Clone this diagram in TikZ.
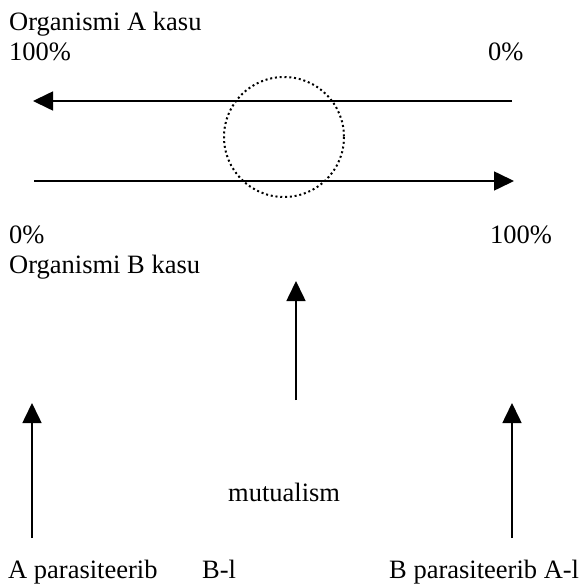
\documentclass[tikz,border=0pt]{standalone}
\usepackage{fontspec}
\setmainfont{Liberation Serif}
\usetikzlibrary{arrows.meta}
\begin{document}
\begin{tikzpicture}[x=1pt,y=-1pt,
  lbl/.style={anchor=base west,inner sep=0pt,font=\fontsize{26.5}{30}\selectfont},
  arr/.style={line width=1.6pt,-{Triangle[length=20pt,width=19pt]}},
  ring/.style={line width=2pt,dash pattern=on 2pt off 2.8pt}]
\useasboundingbox (0,0) rectangle (585,586);
% labels
\node[lbl] (orgA) at (9,31) {Organismi A kasu};
\node[lbl] (a100) at (9,60) {100\%};
\node[lbl] (a0) at (488,60) {0\%};
\node[lbl] (b0) at (9,243) {0\%};
\node[lbl] (b100) at (490,243) {100\%};
\node[lbl] (orgB) at (9,273) {Organismi B kasu};
\node[lbl] (mut) at (228,501) {mutualism};
\node[lbl] (apar) at (8,578) {A parasiteerib};
\node[lbl] (bl) at (202,578) {B-l};
\node[lbl] (bpar) at (389,578) {B parasiteerib A-l};
% arrow ends
\coordinate (t1) at (512,101);
\coordinate (t2) at (33,101);
\coordinate (m1) at (34,181);
\coordinate (m2) at (514,181);
\coordinate (c1) at (296,400);
\coordinate (c2) at (296,281);
\coordinate (l1) at (32,538);
\coordinate (l2) at (32,403);
\coordinate (r1) at (512,538);
\coordinate (r2) at (512,403);
\coordinate (ctr) at (284,137);
% drawing
\draw[arr] (t1) -- (t2);
\draw[arr] (m1) -- (m2);
\draw[ring] (ctr) circle[radius=60];
\draw[arr] (c1) -- (c2);
\draw[arr] (l1) -- (l2);
\draw[arr] (r1) -- (r2);
\end{tikzpicture}
\end{document}
